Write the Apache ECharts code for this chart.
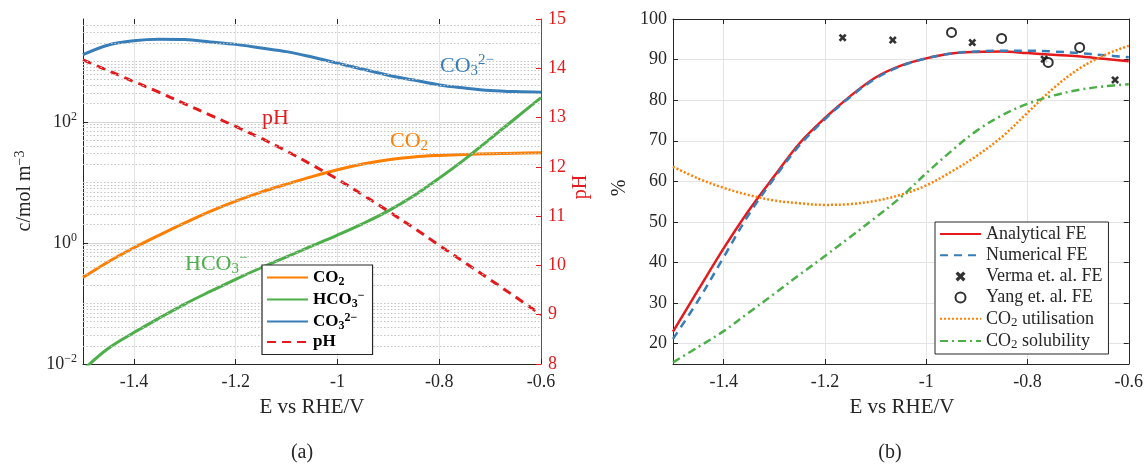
<!DOCTYPE html>
<html><head><meta charset="utf-8">
<script src="https://cdn.jsdelivr.net/npm/echarts@6/dist/echarts.min.js"></script>
<style>html,body{margin:0;padding:0;background:#fff}#c{width:1146px;height:465px}</style>
</head><body><div id="c"></div>
<script>
// ---------- data ----------
const E = [-1.5,-1.45,-1.4,-1.35,-1.3,-1.25,-1.2,-1.15,-1.1,-1.05,-1.0,-0.95,-0.9,-0.85,-0.8,-0.75,-0.7,-0.65,-0.6];
// panel (a): concentrations (mol m^-3) and pH
const co2  = [0.269,0.490,0.832,1.349,2.138,3.311,4.898,6.918,9.333,12.45,16.22,20.18,23.71,26.30,27.86,28.97,29.79,30.41,30.90];
const hco3 = [0.00794,0.0182,0.0331,0.0575,0.0977,0.158,0.251,0.389,0.589,0.891,1.349,2.089,3.388,6.026,11.75,23.99,52.48,114.8,251.2];
const co3  = [1288,1862,2188,2317,2291,2089,1905,1660,1445,1175,933,741,589,490,407,363,331,316,309];
const pH   = [14.17,13.95,13.73,13.51,13.28,13.05,12.82,12.58,12.32,12.04,11.75,11.43,11.10,10.76,10.41,10.06,9.71,9.36,9.00];
// panel (b): percentages
const analyticalFE   = [23.0,33.3,43.5,52.9,61.3,69.4,75.6,81.0,85.6,88.5,90.3,91.5,91.9,92.0,91.6,91.2,90.8,90.2,89.6];
const numericalFE    = [21.2,30.7,41.3,51.9,60.8,68.9,75.3,80.8,85.3,88.4,90.3,91.5,92.0,92.2,92.2,92.0,91.6,91.1,90.6];
const co2Utilisation = [63.6,60.7,58.4,56.6,55.3,54.6,54.2,54.4,55.2,56.7,59.0,62.4,66.3,71.0,76.9,82.8,87.6,91.0,93.4];
const co2Solubility  = [15.4,19.2,23.1,27.7,32.3,37.0,41.6,46.3,51.1,56.1,62.0,67.5,72.5,76.3,79.1,81.1,82.5,83.4,83.9];
const vermaE  = [-1.165,-1.066,-0.909,-0.767,-0.627];
const vermaFE = [95.4,94.8,94.2,90.1,85.0];
const yangE   = [-0.950,-0.851,-0.759,-0.697];
const yangFE  = [96.7,95.2,89.3,93.0];
// ticks
const xTicks  = [-1.4,-1.2,-1,-0.8,-0.6];
const cTicks  = [0.01,1,100];
const feTicks = [20,30,40,50,60,70,80,90,100];

// ---------- styling ----------
const FONT = 'Liberation Serif';
const ink = '#262626';
const RED = '#e41a1c', BLUE = '#377eb8', GREEN = '#4daf4a', ORANGE = '#ff7f00';
const pairs = (xs, ys) => xs.map((x, i) => [x, ys[i]]);

// minor (dotted) grid lines for the log axis
const minorGrid = [];
[-2,-1,0,1,2,3].forEach(k => {
  for (let m = 1; m <= 9; m++) {
    const v = m * Math.pow(10, k);
    if (m === 1 && k % 2 === 0) continue;
    if (v <= 0.01 || v >= 5000) continue;
    minorGrid.push({yAxis: v});
  }
});

const supMinus = s => s.replace('-', '\u2212');
const tickLabel = {fontFamily: FONT, fontSize: 18, color: ink};

function xAxisPair(g, showTop) {
  return [
    {gridIndex: g, type: 'value', min: -1.5, max: -0.6, position: 'bottom',
     axisLine: {show: true, onZero: false, lineStyle: {color: ink, width: 1}},
     axisTick: {show: true, inside: true, length: 5, customValues: xTicks, lineStyle: {color: ink}},
     axisLabel: Object.assign({customValues: xTicks, margin: 9, formatter: v => String(v)}, tickLabel),
     splitLine: {show: true, lineStyle: {color: '#e4e4e4', width: 1}}},
    {gridIndex: g, type: 'value', min: -1.5, max: -0.6, position: 'top',
     axisLine: {show: showTop, onZero: false, lineStyle: {color: ink, width: 1}},
     axisTick: {show: true, inside: true, length: 5, customValues: xTicks.slice(0, 4), lineStyle: {color: ink}},
     axisLabel: {show: false}, splitLine: {show: false}}
  ];
}

const legendRichBold = {
  t:   {fontFamily: FONT, fontSize: 17, fontWeight: 'bold', color: '#000', lineHeight: 20},
  sub: {fontFamily: FONT, fontSize: 12, fontWeight: 'bold', color: '#000', lineHeight: 10, verticalAlign: 'bottom'},
  sup: {fontFamily: FONT, fontSize: 12, fontWeight: 'bold', color: '#000', lineHeight: 10, verticalAlign: 'top'}
};
const legendRich = {
  t:   {fontFamily: FONT, fontSize: 18, color: ink, lineHeight: 20},
  sub: {fontFamily: FONT, fontSize: 13, color: ink, lineHeight: 10, verticalAlign: 'bottom'},
  sup: {fontFamily: FONT, fontSize: 13, color: ink, lineHeight: 10, verticalAlign: 'top'}
};
const legendNames = {
  'CO2': '{t|CO}{sub|2}',
  'HCO3': '{t|HCO}{sub|3}{sup|\u2212}',
  'CO3': '{t|CO}{sub|3}{sup|2\u2212}',
  'pH': '{t|pH}',
  'CO2 utilisation': '{t|CO}{sub|2}{t| utilisation}',
  'CO2 solubility': '{t|CO}{sub|2}{t| solubility}'
};
const legendFmt = n => legendNames[n] || ('{t|' + n + '}');
const lineItem = n => ({name: n, itemStyle: {opacity: 0}});

function annot(x, y, main, sub, sup, color) {
  let txt = '{a|' + main + '}';
  if (sub) txt += '{b|' + sub + '}';
  if (sup) txt += '{c|' + sup + '}';
  return {type: 'text', x: x, y: y, silent: true, z: 50,
    style: {text: txt, align: 'left', verticalAlign: 'middle',
      rich: {
        a: {fontFamily: FONT, fontSize: 22, fill: color, lineHeight: 26},
        b: {fontFamily: FONT, fontSize: 15, fill: color, lineHeight: 12, verticalAlign: 'bottom'},
        c: {fontFamily: FONT, fontSize: 15, fill: color, lineHeight: 12, verticalAlign: 'top'}
      }}};
}
function plainText(x, y, text, color, size, rot) {
  return {type: 'text', x: x, y: y, rotation: rot || 0, silent: true, z: 50,
    style: {text: text, fill: color, align: 'center', verticalAlign: 'middle',
      fontFamily: FONT, fontSize: size}};
}

const XMARK = 'path://M0,2.3L2.3,0L5,2.7L7.7,0L10,2.3L7.3,5L10,7.7L7.7,10L5,7.3L2.3,10L0,7.7L2.7,5Z';

const option = {
  animation: false,
  backgroundColor: '#fff',
  grid: [
    {left: 83, top: 19, width: 458, height: 345},
    {left: 673, top: 19, width: 457, height: 345}
  ],
  xAxis: [].concat(xAxisPair(0, false), xAxisPair(1, true)),
  yAxis: [
    {gridIndex: 0, type: 'log', logBase: 10, min: 0.01, max: 5000, position: 'left',
     axisLine: {show: true, onZero: false, lineStyle: {color: ink, width: 1}},
     axisTick: {show: true, inside: true, length: 5, customValues: cTicks, lineStyle: {color: ink}},
     axisLabel: {customValues: cTicks, margin: 6,
       formatter: v => '{b|10}{s|' + supMinus(String(Math.round(Math.log10(v)))) + '}',
       rich: {b: {fontFamily: FONT, fontSize: 18, color: ink, lineHeight: 22},
              s: {fontFamily: FONT, fontSize: 12, color: ink, lineHeight: 12, verticalAlign: 'top'}}},
     splitLine: {show: true, lineStyle: {color: '#d6d6d6', width: 1}}},
    {gridIndex: 0, type: 'value', min: 8, max: 15, interval: 1, position: 'right',
     axisLine: {show: true, onZero: false, lineStyle: {color: RED, width: 1}},
     axisTick: {show: true, inside: true, length: 5, lineStyle: {color: RED}},
     axisLabel: {margin: 7, fontFamily: FONT, fontSize: 18, color: RED},
     splitLine: {show: false}},
    {gridIndex: 1, type: 'value', min: 15, max: 100, position: 'left',
     axisLine: {show: true, onZero: false, lineStyle: {color: ink, width: 1}},
     axisTick: {show: true, inside: true, length: 5, customValues: feTicks, lineStyle: {color: ink}},
     axisLabel: Object.assign({customValues: feTicks, margin: 6}, tickLabel),
     splitLine: {show: true, lineStyle: {color: '#e4e4e4', width: 1}}},
    {gridIndex: 1, type: 'value', min: 15, max: 100, position: 'right',
     axisLine: {show: true, onZero: false, lineStyle: {color: ink, width: 1}},
     axisTick: {show: true, inside: true, length: 5, customValues: feTicks, lineStyle: {color: ink}},
     axisLabel: {show: false}, splitLine: {show: false}}
  ],
  legend: [
    {left: 262, top: 265, orient: 'vertical', itemWidth: 41, itemHeight: 10, itemGap: 2,
     padding: [4, 8, 4, 4], borderColor: '#262626', borderWidth: 1.2, backgroundColor: '#fff',
     data: ['CO2', 'HCO3', 'CO3', 'pH'].map(lineItem), formatter: legendFmt,
     textStyle: {rich: legendRichBold}, selectedMode: false, z: 60},
    {left: 935, top: 222, orient: 'vertical', itemWidth: 41, itemHeight: 10, itemGap: 3.2,
     padding: [3, 6, 3, 4], borderColor: '#262626', borderWidth: 1, backgroundColor: '#fff',
     data: [lineItem('Analytical FE'), lineItem('Numerical FE'), 'Verma et. al. FE', 'Yang et. al. FE',
            lineItem('CO2 utilisation'), lineItem('CO2 solubility')],
     formatter: legendFmt, textStyle: {rich: legendRich}, selectedMode: false, z: 60}
  ],
  series: [
    {name: 'minor', type: 'line', xAxisIndex: 0, yAxisIndex: 0, data: [], z: 1, silent: true,
     markLine: {silent: true, symbol: ['none', 'none'], label: {show: false}, animation: false,
       lineStyle: {color: '#c4c4c4', type: [1.5, 2], width: 1}, emphasis: {disabled: true},
       data: minorGrid}},
    {name: 'CO2', type: 'line', xAxisIndex: 0, yAxisIndex: 0, data: pairs(E, co2), symbol: 'none',
     smooth: 0.35, lineStyle: {color: ORANGE, width: 3}, itemStyle: {color: ORANGE}, z: 3},
    {name: 'HCO3', type: 'line', xAxisIndex: 0, yAxisIndex: 0, data: pairs(E, hco3), symbol: 'none',
     smooth: 0.35, lineStyle: {color: GREEN, width: 3}, itemStyle: {color: GREEN}, z: 3},
    {name: 'CO3', type: 'line', xAxisIndex: 0, yAxisIndex: 0, data: pairs(E, co3), symbol: 'none',
     smooth: 0.35, lineStyle: {color: BLUE, width: 3}, itemStyle: {color: BLUE}, z: 3},
    {name: 'pH', type: 'line', xAxisIndex: 0, yAxisIndex: 1, data: pairs(E, pH), symbol: 'none',
     smooth: 0.35, lineStyle: {color: RED, width: 3, type: [9, 6]}, itemStyle: {color: RED}, z: 4},

    {name: 'Analytical FE', type: 'line', xAxisIndex: 2, yAxisIndex: 2, data: pairs(E, analyticalFE), symbol: 'none',
     smooth: 0.35, lineStyle: {color: RED, width: 2.5}, itemStyle: {color: RED}, z: 3},
    {name: 'Numerical FE', type: 'line', xAxisIndex: 2, yAxisIndex: 2, data: pairs(E, numericalFE), symbol: 'none',
     smooth: 0.35, lineStyle: {color: BLUE, width: 2.5, type: [8, 6]}, itemStyle: {color: BLUE}, z: 3},
    {name: 'Verma et. al. FE', type: 'scatter', xAxisIndex: 2, yAxisIndex: 2, data: pairs(vermaE, vermaFE),
     symbol: XMARK, symbolSize: 8, itemStyle: {color: '#000'}, z: 6},
    {name: 'Yang et. al. FE', type: 'scatter', xAxisIndex: 2, yAxisIndex: 2, data: pairs(yangE, yangFE),
     symbol: 'emptyCircle', symbolSize: 9, itemStyle: {color: '#000', borderColor: '#000', borderWidth: 2}, z: 6},
    {name: 'CO2 utilisation', type: 'line', xAxisIndex: 2, yAxisIndex: 2, data: pairs(E, co2Utilisation), symbol: 'none',
     smooth: 0.35, lineStyle: {color: ORANGE, width: 2.5, type: [2, 2]}, itemStyle: {color: ORANGE}, z: 3},
    {name: 'CO2 solubility', type: 'line', xAxisIndex: 2, yAxisIndex: 2, data: pairs(E, co2Solubility), symbol: 'none',
     smooth: 0.35, lineStyle: {color: GREEN, width: 2.5, type: [8, 4, 2, 4]}, itemStyle: {color: GREEN}, z: 3}
  ],
  graphic: [
    annot(440, 66, 'CO', '3', '2\u2212', BLUE),
    annot(262, 118, 'pH', '', '', RED),
    annot(390, 141, 'CO', '2', '', ORANGE),
    annot(185, 264, 'HCO', '3', '\u2212', GREEN),
    {type: 'text', x: 25, y: 191, rotation: Math.PI / 2, silent: true, z: 50,
     style: {text: '{a|c/mol m}{b|\u22123}', align: 'center', verticalAlign: 'middle',
       rich: {a: {fontFamily: FONT, fontSize: 20, fill: ink, lineHeight: 24},
              b: {fontFamily: FONT, fontSize: 14, fill: ink, lineHeight: 12, verticalAlign: 'top'}}}},
    plainText(581, 187, 'pH', RED, 20, Math.PI / 2),
    plainText(620, 188, '%', ink, 20, Math.PI / 2),
    plainText(312, 407, 'E vs RHE/V', ink, 21),
    plainText(902, 407, 'E vs RHE/V', ink, 21),
    plainText(302, 453, '(a)', ink, 20),
    plainText(890, 453, '(b)', ink, 20)
  ]
};

const chart = echarts.init(document.getElementById('c'), null, {renderer: 'canvas'});
chart.setOption(option);
</script>
</body></html>
